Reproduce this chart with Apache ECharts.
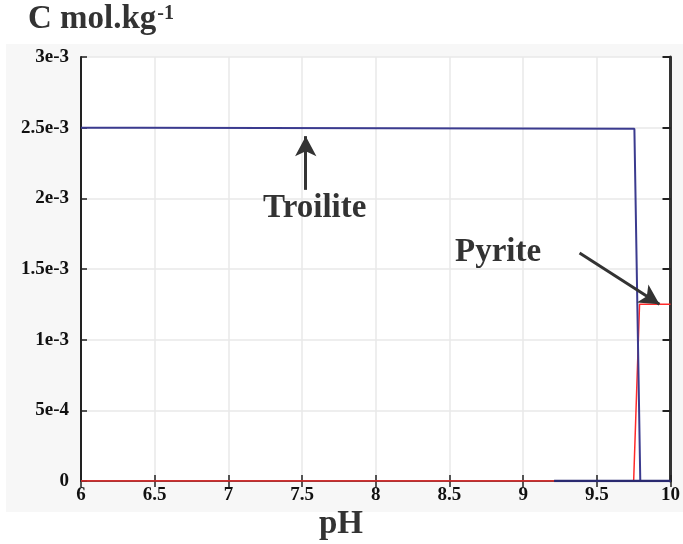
<!DOCTYPE html>
<html><head><meta charset="utf-8">
<script src="https://cdn.jsdelivr.net/npm/echarts@6/dist/echarts.min.js"></script>
<style>html,body{margin:0;padding:0;background:#fff}#c{width:683px;height:544px}</style>
</head><body><div id="c"></div>
<script>
const xTicks = [6, 6.5, 7, 7.5, 8, 8.5, 9, 9.5, 10];
const yTickLabels = ['0', '5e-4', '1e-3', '1.5e-3', '2e-3', '2.5e-3', '3e-3'];
const troilitePH = [6, 6.41, 6.42, 9.755, 9.795, 10];
const troiliteC = [2.5e-3, 2.5e-3, 2.493e-3, 2.493e-3, 0, 0];
const pyritePH = [6, 9.75, 9.79, 10];
const pyriteC = [0, 0, 1.25e-3, 1.25e-3];
const otherPH = [9.21, 10];
const otherC = [0, 0];
const troiliteArrow = [[7.525, 2.06e-3], [7.525, 2.44e-3]];
const pyriteArrow = [[9.383, 1.613e-3], [9.925, 1.25e-3]];
const labelPos = {Troilite: [7.586, 1.93e-3], Pyrite: [8.83, 1.62e-3]};

const zip = (a, b) => a.map((v, i) => [v, b[i]]);
const serif = '"Liberation Serif", "Times New Roman", serif';
const chart = echarts.init(document.getElementById('c'), null, {renderer: 'canvas'});

const ctx = document.createElement('canvas').getContext('2d');
ctx.font = 'bold 33px ' + serif;
const titleW = ctx.measureText('C mol.kg').width;

const option = {
  animation: false,
  backgroundColor: '#fff',
  graphic: [
    {type: 'rect', z: -10, shape: {x: 6, y: 44, width: 677, height: 468}, style: {fill: '#f7f7f7'}},
    {type: 'text', x: 28, y: 36, style: {
      text: 'C mol.kg', fontFamily: serif, fontWeight: 'bold', fontSize: 33, fill: '#333', verticalAlign: 'bottom'}},
    {type: 'text', x: 28 + titleW + 1, y: 4, style: {
      text: '-1', fontFamily: serif, fontWeight: 'bold', fontSize: 20, fill: '#333', verticalAlign: 'top'}},
    {type: 'text', x: 341, y: 541, style: {
      text: 'pH', fontFamily: serif, fontWeight: 'bold', fontSize: 33, fill: '#333', align: 'center', verticalAlign: 'bottom'}}
  ],
  grid: {left: 81, right: 12, top: 57, bottom: 63, show: true, backgroundColor: '#fff', borderWidth: 0},
  xAxis: [
    {type: 'value', min: 6, max: 10, interval: 0.5, position: 'bottom',
      axisLine: {show: true, lineStyle: {color: '#222', width: 2}},
      axisTick: {show: true, inside: true, length: 6, lineStyle: {color: '#222', width: 1.5}},
      axisLabel: {fontFamily: serif, fontWeight: 'bold', fontSize: 19, color: '#111', margin: 5,
        formatter: v => String(xTicks.find(t => Math.abs(t - v) < 1e-9))},
      splitLine: {show: true, lineStyle: {color: '#e8e8e8', width: 1.5}}},
    {type: 'value', min: 6, max: 10, interval: 0.5, position: 'top',
      axisLine: {show: true, lineStyle: {color: '#444', width: 2}},
      axisTick: {show: true, inside: true, length: 6, lineStyle: {color: '#222', width: 1.5}},
      axisLabel: {show: false}, splitLine: {show: false}}
  ],
  yAxis: [
    {type: 'value', min: 0, max: 3e-3, interval: 5e-4, position: 'left',
      axisLine: {show: true, lineStyle: {color: '#222', width: 2}},
      axisTick: {show: true, inside: true, length: 6, lineStyle: {color: '#222', width: 1.5}},
      axisLabel: {fontFamily: serif, fontWeight: 'bold', fontSize: 19, color: '#111', margin: 12,
        formatter: v => yTickLabels[Math.round(v / 5e-4)]},
      splitLine: {show: true, lineStyle: {color: '#e8e8e8', width: 1.5}}},
    {type: 'value', min: 0, max: 3e-3, interval: 5e-4, position: 'right',
      axisLine: {show: true, lineStyle: {color: '#333', width: 3}},
      axisTick: {show: true, inside: true, length: 8, lineStyle: {color: '#222', width: 2}},
      axisLabel: {show: false}, splitLine: {show: false}}
  ],
  series: [
    {name: 'Pyrite', type: 'line', data: zip(pyritePH, pyriteC), showSymbol: false, z: 3,
      lineStyle: {color: '#ff2a2a', width: 1.5},
      markLine: {silent: true, symbol: ['none', 'arrow'], symbolSize: [16, 20],
        lineStyle: {color: '#333', width: 3, type: 'solid'}, label: {show: false},
        data: [[{coord: pyriteArrow[0]}, {coord: pyriteArrow[1]}]]},
      markPoint: {silent: true, symbol: 'circle', symbolSize: 0,
        label: {show: true, position: 'inside', formatter: 'Pyrite', fontFamily: serif, fontWeight: 'bold', fontSize: 33, color: '#333'},
        data: [{coord: labelPos.Pyrite}]}},
    {name: 'Troilite', type: 'line', data: zip(troilitePH, troiliteC), showSymbol: false, z: 4,
      lineStyle: {color: '#3b3b8f', width: 2},
      markLine: {silent: true, symbol: ['none', 'arrow'], symbolSize: [16, 20],
        lineStyle: {color: '#333', width: 3, type: 'solid'}, label: {show: false},
        data: [[{coord: troiliteArrow[0]}, {coord: troiliteArrow[1]}]]},
      markPoint: {silent: true, symbol: 'circle', symbolSize: 0,
        label: {show: true, position: 'inside', formatter: 'Troilite', fontFamily: serif, fontWeight: 'bold', fontSize: 33, color: '#333'},
        data: [{coord: labelPos.Troilite}]}},
    {name: 'Other', type: 'line', data: zip(otherPH, otherC), showSymbol: false, z: 4,
      lineStyle: {color: '#2a2a70', width: 2.5}}
  ]
};
chart.setOption(option);
</script></body></html>
